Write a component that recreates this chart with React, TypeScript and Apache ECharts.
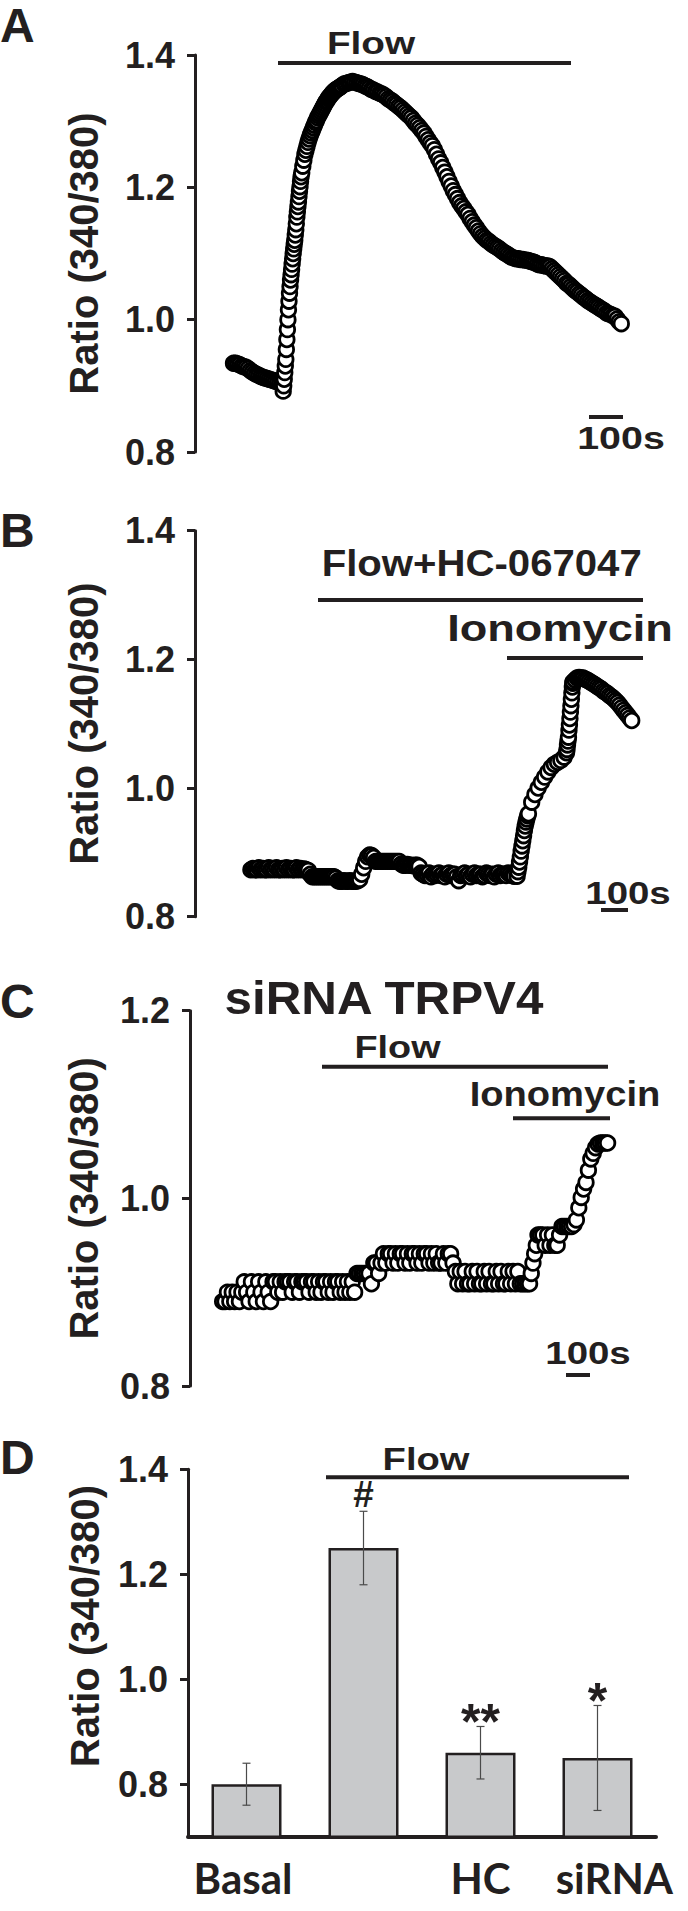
import React, { useEffect, useRef } from 'react';
import * as echarts from 'echarts';

const INK = '#231f20';
const SANS = "'Liberation Sans', Arial, Helvetica, sans-serif";
const CAT_FONT = "Lato, 'Open Sans', sans-serif";

// ---------------- Panel A : Flow ----------------
// trace segments: start time (s), sampling step (s), ratio values
const traceA_t0 = [110, 252, 305, 420];
const traceA_dt = [6, 1.5, 3, 6];
const traceA_base = [0.934, 0.934, 0.933, 0.932, 0.93, 0.929, 0.928, 0.926, 0.923, 0.921, 0.919, 0.917, 0.916, 0.914, 0.913, 0.912, 0.911, 0.91, 0.909, 0.908, 0.907, 0.906, 0.905, 0.904];
const traceA_rise = [0.892, 0.9, 0.91, 0.92, 0.93, 0.94, 0.955, 0.97, 0.985, 1.0, 1.015, 1.028, 1.04, 1.05, 1.06, 1.068, 1.076, 1.084, 1.092, 1.1, 1.107, 1.114, 1.12, 1.128, 1.136, 1.145, 1.155, 1.163, 1.171, 1.178, 1.186, 1.194, 1.201, 1.209, 1.216];
const traceA_peak = [1.222, 1.232, 1.241, 1.25, 1.256, 1.262, 1.268, 1.273, 1.278, 1.282, 1.286, 1.29, 1.294, 1.298, 1.301, 1.305, 1.308, 1.311, 1.314, 1.317, 1.32, 1.323, 1.326, 1.329, 1.331, 1.334, 1.336, 1.338, 1.34, 1.342, 1.344, 1.345, 1.347, 1.348, 1.349, 1.35, 1.351, 1.352];
const traceA_decay = [
  1.354, 1.356, 1.357, 1.358, 1.359, 1.36, 1.359, 1.358, 1.357, 1.356,
  1.355, 1.353, 1.352, 1.35, 1.348, 1.347, 1.345, 1.344, 1.342, 1.341,
  1.339, 1.337, 1.334, 1.332, 1.33, 1.327, 1.325, 1.322, 1.32, 1.317,
  1.314, 1.311, 1.308, 1.305, 1.301, 1.297, 1.294, 1.29, 1.286, 1.282,
  1.277, 1.272, 1.267, 1.263, 1.257, 1.25, 1.243, 1.237, 1.23, 1.223,
  1.216, 1.209, 1.202, 1.195, 1.189, 1.183, 1.177, 1.172, 1.168, 1.163,
  1.159, 1.153, 1.148, 1.143, 1.139, 1.134, 1.13, 1.126, 1.123, 1.12,
  1.118, 1.115, 1.113, 1.111, 1.109, 1.107, 1.104, 1.102, 1.1, 1.098,
  1.096, 1.094, 1.093, 1.092, 1.092, 1.091, 1.091, 1.09, 1.09, 1.089,
  1.088, 1.087, 1.086, 1.084, 1.083, 1.083, 1.082, 1.081, 1.081, 1.08,
  1.077, 1.074, 1.071, 1.068, 1.065, 1.062, 1.059, 1.055, 1.053, 1.05,
  1.047, 1.044, 1.042, 1.039, 1.037, 1.034, 1.032, 1.029, 1.027, 1.025,
  1.023, 1.021, 1.019, 1.017, 1.015, 1.013, 1.01, 1.009, 1.008, 1.006,
  1.005, 1.001, 0.997, 0.994,
];

// ---------------- Panel B : Flow + HC-067047, then ionomycin ----------------
const traceB_t0 = [207, 1193, 1235, 1376, 1400];
const traceB_dt = [7.33, 3, 12, 1.8, 7.5];
const traceB_base = [
  0.873, 0.875, 0.873, 0.873, 0.876, 0.873, 0.875, 0.873, 0.873, 0.876,
  0.873, 0.875, 0.873, 0.876, 0.873, 0.873, 0.875, 0.873, 0.876, 0.873,
  0.875, 0.873, 0.873, 0.876, 0.873, 0.875, 0.873, 0.874, 0.873, 0.872,
  0.866, 0.862, 0.862, 0.862, 0.862, 0.862, 0.862, 0.862, 0.862, 0.862,
  0.862, 0.862, 0.862, 0.86,
  0.856, 0.855, 0.855, 0.856, 0.855, 0.855, 0.856, 0.855, 0.855, 0.855, 0.856,
  0.858, 0.866, 0.876, 0.886, 0.893, 0.896, 0.895, 0.892,
  0.886, 0.886, 0.886, 0.886, 0.886, 0.886, 0.886, 0.886, 0.886, 0.886, 0.886, 0.886, 0.886,
  0.882, 0.88, 0.88, 0.881, 0.88, 0.88, 0.879, 0.88, 0.88, 0.878,
  0.868, 0.866, 0.864, 0.866, 0.868, 0.862, 0.866, 0.864, 0.866, 0.868,
  0.864, 0.866, 0.862, 0.866, 0.868, 0.864, 0.866, 0.866, 0.862, 0.856,
  0.864, 0.866, 0.868, 0.864, 0.866, 0.862, 0.866, 0.868, 0.864, 0.866,
  0.866, 0.862, 0.864, 0.868, 0.866, 0.864, 0.866, 0.862, 0.866, 0.868,
  0.864, 0.866, 0.866, 0.864, 0.868, 0.866, 0.864, 0.863,
];
const traceB_rise1 = [0.863, 0.87, 0.877, 0.885, 0.893, 0.902, 0.91, 0.918, 0.926, 0.934, 0.941, 0.947, 0.952, 0.957];
const traceB_shoulder = [0.96, 0.978, 0.99, 1.0, 1.009, 1.017, 1.025, 1.032, 1.037, 1.04, 1.043, 1.048];
const traceB_rise2 = [1.055, 1.06, 1.067, 1.073, 1.079, 1.09, 1.098, 1.108, 1.118, 1.128, 1.138, 1.148, 1.157, 1.163];
const traceB_decay = [1.165, 1.168, 1.171, 1.172, 1.171, 1.171, 1.169, 1.168, 1.166, 1.164, 1.162, 1.16, 1.158, 1.156, 1.154, 1.151, 1.149, 1.147, 1.144, 1.142, 1.139, 1.136, 1.133, 1.129, 1.125, 1.121, 1.117, 1.113, 1.109, 1.105];

// ---------------- Panel C : siRNA TRPV4 ----------------
const traceC_t0 = [136, 1415, 1460, 1600, 1710];
const traceC_dt = [10, 7, 10, 10, 10];
const traceC_base = [
  0.89, 0.89,
  0.9, 0.89, 0.9, 0.89, 0.9, 0.89, 0.9,
  0.911, 0.9, 0.89, 0.911, 0.9, 0.89, 0.911, 0.9, 0.89, 0.911, 0.9, 0.89, 0.911,
  0.911, 0.9, 0.911, 0.9, 0.911,
  0.911, 0.911, 0.9, 0.911, 0.911, 0.9, 0.911, 0.911,
  0.911, 0.9, 0.911, 0.911, 0.9, 0.911, 0.9, 0.911, 0.911, 0.9, 0.911, 0.9, 0.911, 0.911, 0.9, 0.911, 0.9, 0.911, 0.9, 0.911, 0.9,
  0.92, 0.92, 0.92, 0.92, 0.92, 0.92, 0.909,
  0.931, 0.931, 0.92, 0.931,
  0.941, 0.931, 0.941, 0.941, 0.931, 0.941, 0.931, 0.941, 0.941, 0.931, 0.941, 0.931, 0.941, 0.941, 0.931, 0.941, 0.931, 0.941, 0.941, 0.931, 0.941, 0.931, 0.941, 0.931, 0.931, 0.941, 0.931, 0.941, 0.941,
  0.931, 0.922, 0.909, 0.922,
  0.909, 0.922, 0.909, 0.909, 0.922, 0.909, 0.922, 0.909, 0.909, 0.922, 0.909, 0.922, 0.909, 0.909, 0.922, 0.909, 0.922, 0.909, 0.909, 0.922, 0.909, 0.922, 0.909, 0.922, 0.909, 0.909, 0.909, 0.909,
];
const traceC_step1 = [0.909, 0.92, 0.931, 0.941, 0.95, 0.961];
const traceC_level = [0.961, 0.961, 0.95, 0.961, 0.95, 0.961, 0.95, 0.95, 0.961, 0.97, 0.97, 0.97, 0.97, 0.97];
const traceC_rise = [0.972, 0.977, 0.99, 1.001, 1.01, 1.017, 1.03, 1.042, 1.048, 1.054, 1.058];
const traceC_top = [1.059, 1.059, 1.059, 1.059];

// ---------------- Panel D : summary bars ----------------
const groups = ['Basal', 'Flow', 'HC', 'siRNA'];
const groupLabels = ['Basal', '', 'HC', 'siRNA'];
const means = [0.8, 1.25, 0.86, 0.85];
const errors = [0.04, 0.07, 0.05, 0.1];
const sigMarks = ['', '#', '**', '*'];

// axis ranges
const timeMax = [1250, 1700, 1900];
const ratioRangeA = [0.8, 1.4];
const ratioRangeB = [0.8, 1.4];
const ratioRangeC = [0.8, 1.2];
const ratioRangeD = [0.7, 1.4];
const ticksD = [0.8, 1.0, 1.2, 1.4];

function buildTrace(t0s: number[], dts: number[], segs: number[][]) {
  const pts: number[][] = [];
  segs.forEach((vals, k) => {
    vals.forEach((v, i) => pts.push([t0s[k] + i * dts[k], v]));
  });
  return pts;
}

function yAxisBase(grid: number, range: number[], nameGap: number, extra: any = {}) {
  return {
    type: 'value',
    gridIndex: grid,
    min: range[0],
    max: range[1],
    interval: 0.2,
    name: 'Ratio (340/380)',
    nameLocation: 'middle',
    nameRotate: 90,
    nameGap,
    nameTextStyle: { fontSize: 40, fontWeight: 'bold', fontFamily: SANS, color: INK, ...(extra.namePad ? { padding: extra.namePad } : {}) },
    axisLine: { show: true, lineStyle: { color: INK, width: 3 } },
    axisTick: { show: true, length: 8, lineStyle: { color: INK, width: 3 }, ...(extra.ticks ? { customValues: extra.ticks } : {}) },
    axisLabel: {
      fontSize: 36, fontWeight: 'bold', fontFamily: SANS, color: INK, margin: 20,
      formatter: (v: number) => v.toFixed(1),
      ...(extra.ticks ? { customValues: extra.ticks } : {}),
    },
    splitLine: { show: false },
  };
}

function scatter(idx: number, data: number[][]) {
  return {
    type: 'scatter',
    xAxisIndex: idx,
    yAxisIndex: idx,
    data,
    symbol: 'circle',
    symbolSize: 14.5,
    clip: false,
    silent: true,
    itemStyle: { color: '#ffffff', borderColor: '#000000', borderWidth: 2.8, opacity: 1 },
    emphasis: { disabled: true },
  };
}

function txt(x: number, y: number, text: string, size: number, scaleX = 1, align = 'center', family = SANS) {
  return {
    type: 'text', x, y, scaleX, silent: true,
    style: { text, fontSize: size, fontWeight: 'bold', fontFamily: family, fill: INK, align, verticalAlign: 'middle' },
  };
}
function hline(x1: number, x2: number, y: number, w = 4) {
  return { type: 'line', silent: true, shape: { x1, y1: y, x2, y2: y }, style: { stroke: INK, lineWidth: w } };
}

const catStyle = { fontSize: 42, fontWeight: 'bold', fontFamily: CAT_FONT, color: INK, lineHeight: 42 };

export default function App() {
  const ref = useRef<HTMLDivElement>(null);
  useEffect(() => {
    if (!ref.current) return;
    const chart = echarts.init(ref.current, undefined, { renderer: 'svg' });

    const dataA = buildTrace(traceA_t0, traceA_dt, [traceA_base, traceA_rise, traceA_peak, traceA_decay]);
    const dataB = buildTrace(traceB_t0, traceB_dt, [traceB_base, traceB_rise1, traceB_shoulder, traceB_rise2, traceB_decay]);
    const dataC = buildTrace(traceC_t0, traceC_dt, [traceC_base, traceC_step1, traceC_level, traceC_rise, traceC_top]);

    const option: any = {
      animation: false,
      backgroundColor: '#ffffff',
      textStyle: { fontFamily: SANS },
      grid: [
        { left: 195, top: 55, width: 437.5, height: 397, outerBoundsMode: 'none' },
        { left: 195, top: 530.7, width: 459, height: 386, outerBoundsMode: 'none' },
        { left: 190, top: 1010.7, width: 456, height: 375.3, outerBoundsMode: 'none' },
        { left: 188, top: 1469.3, width: 468, height: 367.4, outerBoundsMode: 'none' },
      ],
      xAxis: [
        { type: 'value', gridIndex: 0, min: 0, max: timeMax[0], show: false },
        { type: 'value', gridIndex: 1, min: 0, max: timeMax[1], show: false },
        { type: 'value', gridIndex: 2, min: 0, max: timeMax[2], show: false },
        {
          type: 'category', gridIndex: 3, data: groups,
          axisLine: { show: true, lineStyle: { color: INK, width: 4 } },
          axisTick: { show: false },
          axisLabel: {
            interval: 0, margin: 20,
            formatter: (_v: string, i: number) => (groupLabels[i] ? `{c${i}|${groupLabels[i]}}` : ''),
            rich: {
              c0: { ...catStyle, padding: [0, 7, 0, 0] },
              c1: { ...catStyle },
              c2: { ...catStyle },
              c3: { ...catStyle, width: 151, align: 'right' },
            },
          },
          splitLine: { show: false },
        },
      ],
      yAxis: [
        yAxisBase(0, ratioRangeA, 91),
        yAxisBase(1, ratioRangeB, 91),
        yAxisBase(2, ratioRangeC, 86),
        { ...yAxisBase(3, ratioRangeD, 83, { ticks: ticksD, namePad: [0, 0, 0, 54] }), interval: 0.1 },
      ],
      series: [
        scatter(0, dataA),
        scatter(1, dataB),
        scatter(2, dataC),
        {
          type: 'bar', xAxisIndex: 3, yAxisIndex: 3, data: means, barWidth: 70, silent: true,
          itemStyle: { color: '#c8c9cb', borderColor: INK, borderWidth: 2.5 },
          emphasis: { disabled: true },
        },
        {
          type: 'custom', xAxisIndex: 3, yAxisIndex: 3, silent: true, z: 5,
          data: means.map((m, i) => [i, m, errors[i]]),
          renderItem: (params: any, api: any) => {
            const i = api.value(0);
            const m = api.value(1);
            const e = api.value(2);
            const top = api.coord([i, m + e]);
            const bot = api.coord([i, m - e]);
            const cap = 4;
            const es = { stroke: '#4a4a4a', lineWidth: 1.2 };
            const mark = sigMarks[params.dataIndex];
            const isHash = mark === '#';
            const children: any[] = [
              { type: 'line', shape: { x1: top[0], y1: top[1], x2: bot[0], y2: bot[1] }, style: es },
              { type: 'line', shape: { x1: top[0] - cap, y1: top[1], x2: top[0] + cap, y2: top[1] }, style: es },
              { type: 'line', shape: { x1: bot[0] - cap, y1: bot[1], x2: bot[0] + cap, y2: bot[1] }, style: es },
            ];
            if (mark) {
              children.push({
                type: 'text', x: top[0], y: isHash ? top[1] - 17 : top[1] - 4,
                style: { text: mark, fontSize: isHash ? 37 : 50, fontWeight: 'bold', fontFamily: SANS, fill: INK, align: 'center', verticalAlign: 'middle' },
              });
            }
            return { type: 'group', children };
          },
        },
      ],
      graphic: [
        // panel letters
        txt(0, 25, 'A', 48, 1.0, 'left'),
        txt(0, 530, 'B', 48, 1.0, 'left'),
        txt(0, 1001, 'C', 48, 1.0, 'left'),
        txt(0, 1457, 'D', 48, 1.0, 'left'),
        // A
        txt(371, 42.5, 'Flow', 31, 1.25),
        hline(278, 571, 63),
        txt(621, 439, '100s', 31, 1.27),
        hline(589, 623, 417),
        // B
        txt(481.7, 563.3, 'Flow+HC-067047', 37, 1.085),
        hline(318, 643, 600),
        txt(560, 628.3, 'Ionomycin', 37, 1.22),
        hline(507, 643, 658),
        txt(628, 892.5, '100s', 31, 1.24),
        hline(601, 628, 910),
        // C
        txt(384, 997, 'siRNA TRPV4', 47, 1.05),
        txt(397.5, 1047.5, 'Flow', 31, 1.22),
        hline(322, 608, 1066.7),
        txt(565, 1094, 'Ionomycin', 35, 1.09),
        hline(513, 610, 1118.3),
        txt(588, 1352.5, '100s', 31, 1.24),
        hline(566, 590, 1375),
        // D
        txt(426, 1459, 'Flow', 31, 1.23),
        hline(326, 629, 1477.3),
      ],
    };
    chart.setOption(option);
    return () => chart.dispose();
  }, []);
  return <div ref={ref} style={{ position: 'absolute', left: 0, top: 0, width: 688, height: 1911 }} />;
}
